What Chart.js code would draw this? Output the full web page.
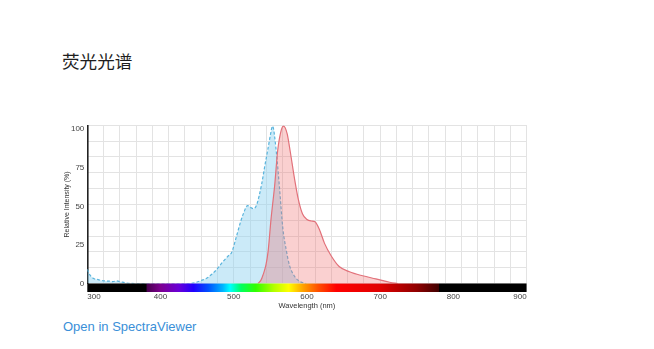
<!DOCTYPE html>
<html lang="zh">
<head>
  <meta charset="UTF-8">
  <title>荧光光谱</title>
  <script src="https://cdn.jsdelivr.net/npm/chart.js"></script>
  <style>
    body { margin: 0; background: #fff; width: 654px; height: 349px; position: relative; overflow: hidden; }
    h3 { position: absolute; left: 62px; top: 52px; margin: 0; font: normal 17.6px/17px "Noto Sans CJK SC", sans-serif; color: #1e1e1e; }
    #box { position: absolute; left: 40px; top: 115px; width: 495px; height: 200px; }
    a { position: absolute; left: 63px; top: 319px; font: 13px/15px "Liberation Sans", Arial, sans-serif; color: #3a8fd8; text-decoration: none; }
  </style>
</head>
<body>
  <h3>荧光光谱</h3>
  <div id="box"><canvas id="spec" width="495" height="200"></canvas></div>
  <a href="#">Open in SpectraViewer</a>
<script>
// excitation (dashed blue)
const exWavelength = [300, 303, 308, 315, 321, 330, 335, 340, 345, 354, 365, 400, 440, 449, 456, 463, 470, 476, 485, 494, 497, 504, 510, 513, 519, 524, 527, 531, 538, 542, 547, 550, 553, 558, 562.5, 567, 572, 576, 583, 590, 599];
const exIntensity  = [9.2, 6, 3.4, 2.5, 1.8, 1.5, 1.2, 1.7, 1.2, 0.3, 0, 0, 0, 0.8, 2, 3.4, 6, 8.7, 14, 18.6, 20, 31, 41, 45, 50.5, 49, 48.5, 50.6, 64, 75, 88, 96, 102, 86, 62, 36, 21, 12, 4.7, 1.4, 0];
// emission (solid red)
const emWavelength = [533, 537, 540, 544, 547, 551, 556, 560, 565, 568, 573, 577, 583, 588, 594, 600, 606, 611, 617, 624, 633, 644, 658, 676, 694, 713, 724];
const emIntensity  = [0, 2, 5.5, 12, 21, 42, 64, 86, 99.5, 102, 97, 86, 68, 55, 45, 41.5, 40.5, 40, 35, 26, 18, 11, 7.6, 5, 3, 0.8, 0];

const xTicks = [300, 400, 500, 600, 700, 800, 900];
const yTicks = [0, 25, 50, 75, 100];

// visible light bar below the axis
const spectrumStops = [
  [300, '#000000'], [380, '#000000'], [382, '#4a0050'], [400, '#7d0090'], [425, '#6a00d8'],
  [445, '#2000ff'], [465, '#0050ff'], [485, '#00b4ff'], [495, '#00ffff'], [510, '#00ff60'],
  [530, '#30ff00'], [555, '#b4ff00'], [575, '#ffff00'], [595, '#ffa000'], [615, '#ff5000'],
  [640, '#ff0000'], [700, '#e00000'], [750, '#900000'], [780, '#400000'], [781, '#000000'], [900, '#000000']
];

const pts = (xs, ys) => xs.map((x, i) => ({ x: x, y: ys[i] }));
const xMin = 300, xMax = 900, yMax = 102.5;

const specBar = {
  id: 'specBar',
  afterDraw(chart) {
    const { ctx, chartArea } = chart;
    const sx = chart.scales.x;
    const x0 = sx.getPixelForValue(xMin), x1 = sx.getPixelForValue(xMax);
    const g = ctx.createLinearGradient(x0, 0, x1, 0);
    spectrumStops.forEach(s => g.addColorStop((s[0] - xMin) / (xMax - xMin), s[1]));
    ctx.save();
    ctx.fillStyle = g;
    ctx.fillRect(x0, chartArea.bottom, x1 - x0, 8.5);
    ctx.restore();
  }
};

new Chart(document.getElementById('spec'), {
  type: 'line',
  data: {
    datasets: [
      {
        label: 'Emission',
        data: pts(emWavelength, emIntensity),
        borderColor: '#e2717a',
        borderWidth: 1.2,
        backgroundColor: 'rgba(238, 110, 110, 0.32)',
        fill: 'origin',
        pointRadius: 0,
        cubicInterpolationMode: 'monotone'
      },
      {
        label: 'Excitation',
        data: pts(exWavelength, exIntensity),
        borderColor: '#5ab4dc',
        borderWidth: 1.2,
        borderDash: [3, 2],
        backgroundColor: 'rgba(140, 208, 240, 0.45)',
        fill: 'origin',
        pointRadius: 0,
        cubicInterpolationMode: 'monotone'
      }
    ]
  },
  options: {
    responsive: false,
    animation: false,
    devicePixelRatio: 1,
    layout: { padding: { top: 10.3, right: 7.6, left: 0, bottom: 0 } },
    plugins: { legend: { display: false }, tooltip: { enabled: false } },
    scales: {
      x: {
        type: 'linear', min: xMin, max: xMax,
        afterBuildTicks: s => { s.ticks = xTicks.map(v => ({ value: v })); },
        afterFit: s => { s.height = 31.5; },
        grid: { display: false, drawTicks: false },
        border: { display: false },
        ticks: { align: 'inner', padding: 8.4, color: '#444', font: { family: 'Liberation Sans', size: 8 } },
        title: { display: true, text: 'Wavelength (nm)', color: '#333', padding: { bottom: 4.5, top: 0 }, font: { family: 'Liberation Sans', size: 7.5 } }
      },
      y: {
        type: 'linear', min: 0, max: yMax,
        afterBuildTicks: s => { s.ticks = yTicks.map(v => ({ value: v })); },
        afterFit: s => { s.width = 47.3; },
        grid: { display: false, drawTicks: false },
        border: { display: true, color: '#222', width: 1.6 },
        ticks: { padding: 3, color: '#444', font: { family: 'Liberation Sans', size: 8 } },
        title: { display: true, text: 'Relative Intensity (%)', color: '#333', padding: { top: 23, bottom: 0 }, font: { family: 'Liberation Sans', size: 7 } }
      },
      xg: {
        type: 'linear', position: 'top', min: xMin, max: xMax,
        afterBuildTicks: s => { s.ticks = Array.from({ length: 28 }, (_, i) => ({ value: xMin + i * (xMax - xMin) / 27 })); },
        afterFit: s => { s.height = 0; },
        grid: { color: '#e3e3e3', lineWidth: 1, drawTicks: false },
        border: { display: false },
        ticks: { display: false }
      },
      yg: {
        type: 'linear', position: 'right', min: 0, max: yMax,
        afterBuildTicks: s => { s.ticks = Array.from({ length: 11 }, (_, i) => ({ value: yMax - i * yMax / 10 })); },
        afterFit: s => { s.width = 0; },
        grid: { color: '#e3e3e3', lineWidth: 1, drawTicks: false },
        border: { display: false },
        ticks: { display: false }
      }
    }
  },
  plugins: [specBar]
});
</script>
</body>
</html>
